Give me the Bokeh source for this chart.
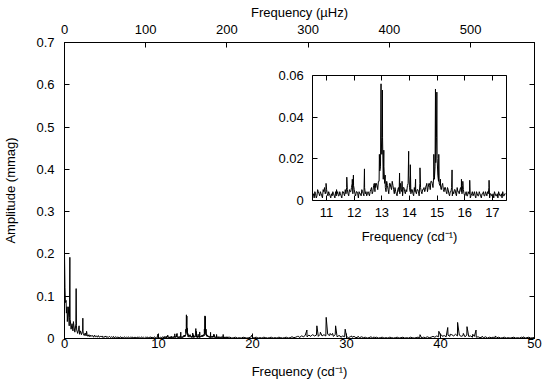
import numpy as np
from bokeh.plotting import figure
from bokeh.models import Range1d, LinearAxis, FixedTicker, CustomJSTickFormatter
from bokeh.embed import file_html
from bokeh.resources import INLINE

# ---------------- data (amplitude spectrum, mmag vs c/d) ----------------
# noise floor sampled on uniform frequency grids (start, step in c/d)
low_start, low_step = 0.0, 0.1
low_amp = [
    0.200, 0.085, 0.060, 0.040, 0.075, 0.030, 0.045, 0.022, 0.035, 0.018,
    0.030, 0.015, 0.032, 0.020, 0.012, 0.022, 0.010, 0.018, 0.009, 0.016,
    0.011, 0.007, 0.013, 0.006, 0.010, 0.005, 0.009, 0.004, 0.008, 0.005,
    0.007, 0.003, 0.008, 0.004, 0.006, 0.003, 0.007, 0.003, 0.005, 0.004,
    0.006, 0.002, 0.005, 0.003, 0.006, 0.002, 0.004, 0.003, 0.005, 0.002,
    0.004, 0.002, 0.005, 0.001, 0.004, 0.003, 0.002, 0.004, 0.001, 0.003,
    0.004, 0.001, 0.003, 0.002, 0.004, 0.001, 0.003, 0.002, 0.004, 0.001,
    0.003, 0.002, 0.004, 0.001, 0.003, 0.002, 0.003, 0.001, 0.004, 0.002,
    0.003, 0.001, 0.004, 0.002, 0.003, 0.001, 0.003, 0.002, 0.004, 0.001,
    0.003, 0.002, 0.004, 0.001, 0.003, 0.002, 0.004, 0.001, 0.003, 0.002,
    0.004, 0.002, 0.003, 0.001, 0.004,
]
mid_start, mid_step = 10.5, 0.05
mid_amp = [
    0.002, 0.001, 0.003, 0.002, 0.004, 0.002, 0.003, 0.001, 0.004, 0.003,
    0.005, 0.002, 0.003, 0.001, 0.002, 0.003, 0.001, 0.002, 0.004, 0.002,
    0.003, 0.001, 0.004, 0.002, 0.003, 0.005, 0.002, 0.004, 0.006, 0.003,
    0.005, 0.002, 0.004, 0.001, 0.003, 0.002, 0.004, 0.002, 0.003, 0.002,
    0.004, 0.002, 0.005, 0.003, 0.007, 0.004, 0.008, 0.005, 0.009, 0.016,
    0.022, 0.010, 0.008, 0.004, 0.007, 0.003, 0.008, 0.005, 0.007, 0.003,
    0.004, 0.002, 0.006, 0.003, 0.005, 0.002, 0.006, 0.003, 0.004, 0.008,
    0.006, 0.003, 0.005, 0.002, 0.004, 0.003, 0.005, 0.002, 0.006, 0.003,
    0.005, 0.004, 0.007, 0.004, 0.008, 0.005, 0.009, 0.006, 0.010, 0.018,
    0.020, 0.009, 0.007, 0.005, 0.008, 0.004, 0.006, 0.003, 0.005, 0.002,
    0.004, 0.002, 0.003, 0.005, 0.002, 0.004, 0.003, 0.006, 0.003, 0.005,
    0.002, 0.004, 0.002, 0.003, 0.001, 0.003, 0.002, 0.004, 0.001, 0.003,
    0.002, 0.003, 0.001, 0.003, 0.002, 0.004, 0.002, 0.003, 0.001, 0.003,
    0.002, 0.001, 0.003, 0.002, 0.001, 0.003, 0.002, 0.001, 0.002, 0.003,
]
# second, interleaved set of noise samples in the inset region
mid2_start, mid2_step = 10.525, 0.05
mid2_amp = [
    0.003, 0.004, 0.001, 0.005, 0.003, 0.004, 0.002, 0.005, 0.006, 0.004,
    0.003, 0.004, 0.002, 0.003, 0.004, 0.002, 0.004, 0.003, 0.002, 0.004,
    0.002, 0.004, 0.003, 0.005, 0.006, 0.003, 0.005, 0.004, 0.008, 0.007,
    0.003, 0.004, 0.003, 0.004, 0.003, 0.005, 0.003, 0.006, 0.004, 0.003,
    0.003, 0.004, 0.006, 0.004, 0.008, 0.006, 0.007, 0.009, 0.014, 0.030,
    0.030, 0.016, 0.006, 0.009, 0.005, 0.008, 0.006, 0.009, 0.005, 0.006,
    0.003, 0.005, 0.004, 0.008, 0.004, 0.006, 0.004, 0.005, 0.007, 0.012,
    0.004, 0.005, 0.003, 0.006, 0.004, 0.005, 0.004, 0.008, 0.004, 0.005,
    0.006, 0.005, 0.008, 0.006, 0.007, 0.009, 0.008, 0.011, 0.016, 0.030,
    0.012, 0.008, 0.006, 0.007, 0.005, 0.006, 0.004, 0.006, 0.003, 0.004,
    0.006, 0.004, 0.005, 0.003, 0.006, 0.004, 0.005, 0.004, 0.007, 0.003,
    0.003, 0.002, 0.004, 0.003, 0.002, 0.004, 0.003, 0.002, 0.004, 0.002,
    0.004, 0.002, 0.003, 0.004, 0.002, 0.003, 0.004, 0.006, 0.003, 0.002,
    0.003, 0.004, 0.002, 0.003, 0.004, 0.002, 0.003, 0.004, 0.002, 0.003,
]
high_start, high_step = 17.6, 0.2
high_amp = [
    0.003, 0.001, 0.002, 0.003, 0.001, 0.002, 0.001, 0.003, 0.002, 0.001,
    0.002, 0.003, 0.001, 0.002, 0.003, 0.001, 0.002, 0.001, 0.003, 0.002,
    0.001, 0.002, 0.003, 0.001, 0.002, 0.001, 0.003, 0.002, 0.001, 0.002,
    0.003, 0.001, 0.002, 0.004, 0.002, 0.003, 0.005, 0.002, 0.006, 0.004,
    0.007, 0.004, 0.008, 0.005, 0.009, 0.006, 0.008, 0.005, 0.010, 0.006,
    0.009, 0.006, 0.010, 0.007, 0.008, 0.005, 0.009, 0.004, 0.007, 0.003,
    0.006, 0.004, 0.005, 0.002, 0.004, 0.003, 0.005, 0.002, 0.003, 0.002,
    0.004, 0.002, 0.003, 0.001, 0.002, 0.004, 0.001, 0.002, 0.003, 0.001,
    0.002, 0.003, 0.001, 0.002, 0.001, 0.003, 0.002, 0.001, 0.002, 0.003,
    0.001, 0.002, 0.003, 0.001, 0.002, 0.001, 0.003, 0.002, 0.001, 0.002,
    0.003, 0.002, 0.001, 0.003, 0.002, 0.004, 0.002, 0.003, 0.005, 0.003,
    0.006, 0.004, 0.008, 0.005, 0.007, 0.004, 0.008, 0.005, 0.009, 0.006,
    0.010, 0.006, 0.008, 0.005, 0.007, 0.004, 0.008, 0.005, 0.006, 0.003,
    0.005, 0.003, 0.004, 0.002, 0.003, 0.002, 0.004, 0.001, 0.003, 0.002,
    0.003, 0.001, 0.002, 0.003, 0.001, 0.002, 0.003, 0.001, 0.002, 0.001,
    0.002, 0.003, 0.001, 0.002, 0.001, 0.003, 0.002, 0.001, 0.002, 0.003,
    0.001, 0.002, 0.002,
]

# individual spectral peaks (frequency c/d, amplitude mmag)
peak_freq = [
    0.05, 0.17, 0.27, 0.53, 0.57, 0.61, 0.95, 1.21, 1.24, 1.27, 1.55,
    1.93, 1.95, 1.97, 2.35, 9.92,
    10.98, 11.36, 11.73, 11.93, 11.97, 12.37, 12.76, 12.91, 12.97, 13.02,
    13.07, 13.12, 13.64, 13.73, 13.97, 14.03, 14.22, 14.38, 14.62, 14.72,
    14.88, 14.94, 14.99, 15.06, 15.12, 15.54, 15.88, 15.93, 16.18, 16.88,
    19.94, 24.92, 25.27, 25.79, 26.32, 26.85, 27.22, 27.84, 28.26, 28.52,
    28.84, 29.32, 29.86, 30.52, 31.22, 32.92,
    37.82, 39.82, 40.13, 40.77, 41.03, 41.82, 42.43, 42.82, 43.43, 43.78,
    44.42, 45.83, 48.83,
]
peak_amp = [
    0.120, 0.090, 0.075, 0.050, 0.192, 0.045, 0.040, 0.035, 0.118, 0.030, 0.030,
    0.020, 0.048, 0.018, 0.017, 0.010,
    0.008, 0.005, 0.011, 0.010, 0.012, 0.015, 0.008, 0.022, 0.056, 0.053,
    0.024, 0.012, 0.013, 0.009, 0.0235, 0.017, 0.010, 0.0155, 0.007, 0.008,
    0.022, 0.0535, 0.052, 0.022, 0.010, 0.0145, 0.010, 0.009, 0.0095, 0.0095,
    0.008, 0.005, 0.006, 0.020, 0.008, 0.030, 0.015, 0.050, 0.012, 0.012,
    0.030, 0.006, 0.022, 0.006, 0.005, 0.004,
    0.009, 0.017, 0.008, 0.026, 0.010, 0.038, 0.012, 0.028, 0.010, 0.020,
    0.005, 0.006, 0.004,
]

cd_to_uhz = 11.574  # 1 c/d in microhertz
main_x_range = (0, 50)
main_y_range = (0, 0.7)
main_x_ticks = [0, 10, 20, 30, 40, 50]
main_y_ticks = [0, 0.1, 0.2, 0.3, 0.4, 0.5, 0.6, 0.7]
uhz_ticks = [0, 100, 200, 300, 400, 500]
inset_x_range = (10.5, 17.5)
inset_y_range = (0, 0.06)
inset_x_ticks = [11, 12, 13, 14, 15, 16, 17]
inset_y_ticks = [0, 0.02, 0.04, 0.06]

# ---------------- assemble spectrum ----------------
f_low = low_start + low_step * np.arange(len(low_amp))
f_mid = mid_start + mid_step * np.arange(len(mid_amp))
f_mid2 = mid2_start + mid2_step * np.arange(len(mid2_amp))
f_high = high_start + high_step * np.arange(len(high_amp))
freq = np.concatenate([f_low, f_mid, f_mid2, f_high, np.array(peak_freq)])
amp = np.concatenate([low_amp, mid_amp, mid2_amp, high_amp, peak_amp])
order = np.argsort(freq, kind="stable")
freq = freq[order]
amp = amp[order]
sel = (freq >= inset_x_range[0]) & (freq <= inset_x_range[1])
ins_freq = freq[sel]
ins_amp = amp[sel]

# ---------------- layout geometry (pixels) ----------------
FRAME_W, FRAME_H = 470, 296
# inset box inside the main frame, pixels from frame left / frame bottom
INS_L, INS_R = 248.3, 441.7
INS_B, INS_T = 138.5, 263.0

sx = (inset_x_range[1] - inset_x_range[0]) / (INS_R - INS_L)
sy = (inset_y_range[1] - inset_y_range[0]) / (INS_T - INS_B)
ix_range = Range1d(inset_x_range[0] - INS_L * sx, inset_x_range[1] + (FRAME_W - INS_R) * sx)
iy_range = Range1d(inset_y_range[0] - INS_B * sy, inset_y_range[1] + (FRAME_H - INS_T) * sy)

FONT = "Liberation Sans"
FS = "13px"


def style_axis(ax, standoff):
    ax.major_tick_in = 5
    ax.major_tick_out = 0
    ax.minor_tick_in = 0
    ax.minor_tick_out = 0
    ax.axis_line_color = "black"
    ax.axis_line_width = 1
    ax.major_tick_line_color = "black"
    ax.major_label_text_font = FONT
    ax.major_label_text_font_size = FS
    ax.major_label_text_color = "black"
    ax.major_label_standoff = standoff
    ax.axis_label_text_font = FONT
    ax.axis_label_text_font_size = FS
    ax.axis_label_text_font_style = "normal"
    ax.axis_label_text_color = "black"


def blank():
    return CustomJSTickFormatter(code="return '';")


# ---------------- main figure ----------------
p = figure(
    frame_width=FRAME_W, frame_height=FRAME_H,
    min_border_left=64, min_border_right=9, min_border_top=42, min_border_bottom=46,
    x_range=Range1d(*main_x_range), y_range=Range1d(*main_y_range),
    output_backend="svg", toolbar_location=None,
)
p.extra_x_ranges = {"uhz": Range1d(main_x_range[0] * cd_to_uhz, main_x_range[1] * cd_to_uhz),
                    "ix": ix_range}
p.extra_y_ranges = {"iy": iy_range}
p.grid.visible = False
p.outline_line_color = "black"
p.background_fill_color = "white"
p.border_fill_color = "white"
p.line(freq, amp, line_color="black", line_width=1)
p.line(ins_freq, ins_amp, line_color="black", line_width=1,
       x_range_name="ix", y_range_name="iy")

p.xaxis.ticker = FixedTicker(ticks=main_x_ticks)
p.xaxis.axis_label = "Frequency (cd\u207b\u00b9)"
style_axis(p.xaxis[0], 0)
p.xaxis[0].axis_label_standoff = 13

p.yaxis.ticker = FixedTicker(ticks=main_y_ticks)
p.yaxis.formatter = CustomJSTickFormatter(code="return tick == 0 ? '0' : tick.toFixed(1);")
p.yaxis.axis_label = "Amplitude (mmag)"
style_axis(p.yaxis[0], 10)
p.yaxis[0].axis_label_standoff = 15

top = LinearAxis(x_range_name="uhz", ticker=FixedTicker(ticks=uhz_ticks),
                 axis_label="Frequency (\u00b5Hz)")
style_axis(top, 9)
top.axis_label_standoff = 2
p.add_layout(top, "above")

right = LinearAxis(ticker=FixedTicker(ticks=main_y_ticks), formatter=blank())
style_axis(right, 0)
p.add_layout(right, "right")

# ---------------- inset axes (drawn inside the main frame) ----------------
ib = LinearAxis(x_range_name="ix", y_range_name="iy", fixed_location=inset_y_range[0],
                bounds=inset_x_range, ticker=FixedTicker(ticks=inset_x_ticks),
                axis_label="Frequency (cd\u207b\u00b9)")
style_axis(ib, 8)
ib.axis_label_standoff = 8
p.add_layout(ib, "below")

it = LinearAxis(x_range_name="ix", y_range_name="iy", fixed_location=inset_y_range[1],
                bounds=inset_x_range, ticker=FixedTicker(ticks=inset_x_ticks), formatter=blank())
style_axis(it, 0)
p.add_layout(it, "above")

il = LinearAxis(x_range_name="ix", y_range_name="iy", fixed_location=inset_x_range[0],
                bounds=inset_y_range, ticker=FixedTicker(ticks=inset_y_ticks),
                formatter=CustomJSTickFormatter(code="return tick == 0 ? '0' : tick.toFixed(2);"))
style_axis(il, 9)
p.add_layout(il, "left")

ir = LinearAxis(x_range_name="ix", y_range_name="iy", fixed_location=inset_x_range[1],
                bounds=inset_y_range, ticker=FixedTicker(ticks=inset_y_ticks), formatter=blank())
style_axis(ir, 0)
p.add_layout(ir, "right")

open("out.html", "w").write(file_html(p, INLINE))
